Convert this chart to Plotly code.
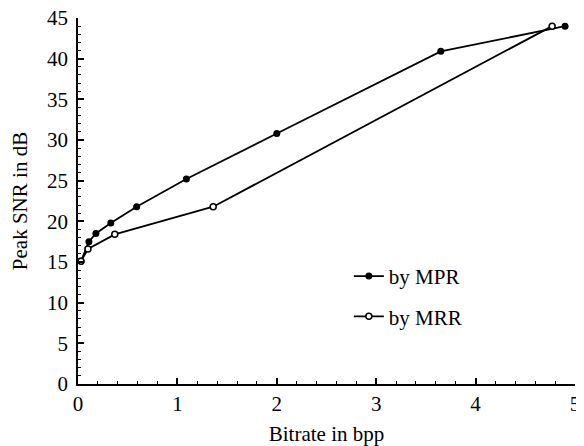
import plotly.graph_objects as go

mpr_x = [0.03, 0.11, 0.18, 0.33, 0.59, 1.09, 2.0, 3.65, 4.90]
mpr_y = [15.1, 17.5, 18.5, 19.8, 21.8, 25.2, 30.8, 40.9, 44.0]
mrr_x = [0.03, 0.10, 0.37, 1.36, 4.77]
mrr_y = [15.1, 16.6, 18.4, 21.8, 44.0]

x_ticks = [0, 1, 2, 3, 4, 5]
y_ticks = [0, 5, 10, 15, 20, 25, 30, 35, 40, 45]

serif = "Liberation Serif, Times New Roman, serif"
font = dict(family=serif, size=21, color="black")

fig = go.Figure()
fig.add_trace(go.Scatter(
    x=mpr_x, y=mpr_y, mode="lines+markers", name="by MPR", legendgroup="a",
    line=dict(color="black", width=1.8),
    marker=dict(symbol="circle", size=7, color="black"),
))
fig.add_trace(go.Scatter(
    x=mrr_x, y=mrr_y, mode="lines+markers", name="by MRR", legendgroup="b",
    line=dict(color="black", width=1.8),
    marker=dict(symbol="circle", size=6, color="white", line=dict(color="black", width=1.5)),
))

# page body has an 8px default margin, so the figure is sized to fit inside it
fig.update_layout(
    width=576, height=438,
    margin=dict(l=70, r=9, t=10, b=62),
    paper_bgcolor="white", plot_bgcolor="white",
    font=font,
    legend=dict(x=0.545, y=0.35, xanchor="left", yanchor="top",
                bgcolor="rgba(0,0,0,0)", tracegroupgap=10, itemwidth=30,
                font=dict(family=serif, size=21, color="black")),
    xaxis=dict(range=[0, 5], tickvals=x_ticks, ticks="inside", ticklen=6, tickwidth=1.5,
               showline=True, linecolor="black", linewidth=1.8, showgrid=False, zeroline=False,
               minor=dict(dtick=0.2, ticks="inside", ticklen=3, tickwidth=1.2, tickcolor="black"),
               tickcolor="black", automargin=False, ticklabeloverflow="allow",
               tickfont=dict(family=serif, size=21, color="black"),
               title=dict(text="Bitrate in bpp", standoff=12, font=dict(family=serif, size=21, color="black"))),
    yaxis=dict(range=[0, 45], tickvals=y_ticks, ticks="inside", ticklen=6, tickwidth=1.5,
               showline=True, linecolor="black", linewidth=1.8, showgrid=False, zeroline=False,
               minor=dict(dtick=1, ticks="inside", ticklen=3, tickwidth=1.2, tickcolor="black"),
               tickcolor="black", automargin=False, ticklabeloverflow="allow",
               ticklabelstandoff=4,
               tickfont=dict(family=serif, size=21, color="black"),
               title=dict(text="Peak SNR in dB", standoff=17, font=dict(family=serif, size=21, color="black"))),
)

fig.write_html("out.html")
